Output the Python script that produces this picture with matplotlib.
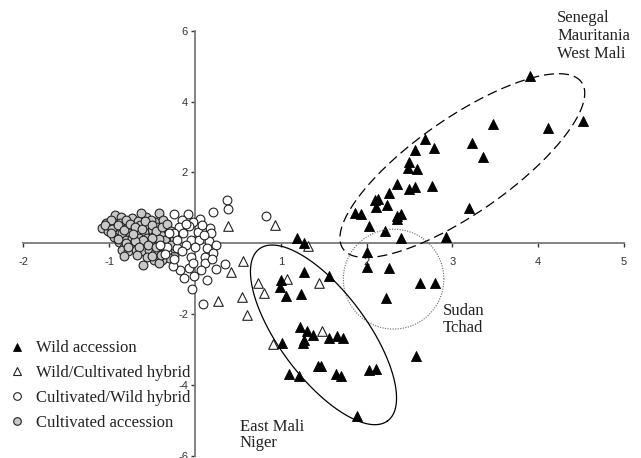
import numpy as np
import matplotlib
matplotlib.use("Agg")
import matplotlib.pyplot as plt
from matplotlib.lines import Line2D

# ---------------- data ----------------
wild_x = [3.91, 4.52, 4.11, 3.47, 3.23, 3.36, 2.68, 2.79, 2.57, 2.50, 2.48, 2.59, 2.35, 2.50,
          2.57, 2.76, 2.26, 2.10, 2.13, 2.11, 2.24, 1.87, 1.93, 2.36, 2.40, 2.35, 2.03, 2.22,
          2.40, 2.92, 3.19, 2.00, 2.00, 2.26,
          1.19, 1.27, 1.27, 1.56, 1.00, 0.99, 1.06, 1.24, 2.62, 2.80, 2.23, 1.22, 1.31, 1.37,
          1.27, 1.26, 1.56, 1.66, 1.73, 1.01, 2.58, 1.43, 1.47, 1.10, 1.21, 1.64, 1.70, 2.03,
          2.11, 1.89]
wild_y = [4.72, 3.45, 3.24, 3.36, 2.82, 2.42, 2.93, 2.70, 2.63, 2.28, 2.12, 2.09, 1.68, 1.52,
          1.60, 1.62, 1.41, 1.22, 1.24, 1.01, 1.09, 0.86, 0.83, 0.77, 0.82, 0.68, 0.49, 0.35,
          0.15, 0.18, 1.00, -0.25, -0.66, -0.70,
          0.16, 0.00, -0.81, -0.94, -1.05, -1.23, -1.49, -1.43, -1.13, -1.13, -1.56, -2.37,
          -2.49, -2.58, -2.73, -2.81, -2.67, -2.62, -2.69, -2.81, -3.18, -3.48, -3.46, -3.69,
          -3.75, -3.69, -3.75, -3.58, -3.54, -4.89]

wc_x = [0.39, 0.93, 1.32, 0.56, 0.42, 0.74, 0.81, 1.07, 1.44, 0.27, 0.55, 0.61, 1.48, 0.91]
wc_y = [0.49, 0.51, -0.08, -0.50, -0.82, -1.11, -1.40, -1.02, -1.11, -1.63, -1.51, -2.02, -2.47, -2.84]

cw_x = [0.37, 0.205, 0.39, 0.83, -0.245, -0.08, 0.06, -0.02, -0.15, -0.19, -0.07, 0.03, 0.18,
        0.19, -0.245, -0.14, -0.05, 0.045, 0.16, 0.24, 0.14, -0.005, -0.11, -0.205, -0.32,
        -0.41, -0.15, -0.05, 0.12, 0.21, 0.12, 0.065, 0.24, 0.355, -0.07, -0.17, -0.26,
        -0.13, -0.01, 0.135, -0.04, 0.09, -0.30, -0.205, 0.10,
        -0.10, 0.08, -0.25, -0.02, 0.20, -0.35]
cw_y = [1.22, 0.87, 0.96, 0.77, 0.82, 0.82, 0.68, 0.61, 0.65, 0.45, 0.49, 0.33, 0.42,
        0.28, 0.28, 0.28, 0.09, 0.09, 0.07, -0.05, -0.14, -0.10, -0.05, -0.14, -0.10,
        -0.05, -0.23, -0.38, -0.38, -0.27, -0.57, -0.76, -0.73, -0.59, -0.70, -0.76, -0.64,
        -0.97, -0.92, -1.04, -1.30, -1.72, 0.28, 0.09, 0.24,
        0.55, 0.50, -0.45, -0.55, -0.45, -0.30]

cult_x = [-0.93, -0.86, -1.04, -1.08, -1.01, -0.94, -0.87, -0.79, -0.73, -0.66, -0.565, -0.64,
          -0.555, -0.465, -0.42, -0.37, -0.32, -0.50, -0.59, -0.69, -0.77, -0.855, -0.94,
          -0.88, -0.805, -0.73, -0.65, -0.555, -0.48, -0.40, -0.30, -0.24, -0.34, -0.44,
          -0.515, -0.59, -0.67, -0.75, -0.825, -0.855, -0.785, -0.69, -0.61, -0.535, -0.46,
          -0.36, -0.245, -0.30, -0.38, -0.48, -0.555, -0.61, -0.42, -0.83, -0.245, -0.44,
          -0.98, -0.515, -0.805, -0.63,
          -1.05, -0.97, -0.90, -0.83, -0.76, -0.70, -0.62, -0.58, -0.50, -0.45, -0.38, -0.35,
          -0.42, -0.50, -0.60, -0.70, -0.80, -0.90, -0.98, -0.78, -0.65, -0.55, -0.45, -0.38,
          -0.28, -0.50, -0.40, -0.68, -0.72, -0.33, -0.28]
cult_y = [0.79, 0.75, 0.58, 0.44, 0.34, 0.45, 0.58, 0.42, 0.71, 0.63, 0.75, 0.51,
          0.49, 0.61, 0.85, 0.65, 0.41, 0.37, 0.33, 0.33, 0.30, 0.28, 0.18,
          0.04, 0.09, 0.14, 0.16, 0.16, 0.21, 0.24, 0.21, 0.09, 0.00, 0.00,
          0.04, -0.05, -0.02, -0.05, -0.11, -0.19, -0.23, -0.19, -0.23, -0.19, -0.29,
          -0.23, -0.36, -0.43, -0.47, -0.47, -0.38, -0.61, -0.55, -0.36, -0.14, 0.47,
          0.65, 0.65, 0.65, 0.85,
          0.50, 0.40, 0.50, 0.38, 0.55, 0.45, 0.40, 0.62, 0.52, 0.35, 0.45, 0.10,
          0.12, 0.15, 0.08, 0.05, 0.00, 0.12, 0.28, -0.10, -0.10, -0.05, -0.12, -0.08,
          -0.05, -0.35, -0.32, -0.32, 0.25, 0.55, 0.35]

legend_labels = ["Wild accession", "Wild/Cultivated hybrid",
                 "Cultivated/Wild hybrid", "Cultivated accession"]
group_labels = ["Senegal\nMauritania\nWest Mali", "Sudan\nTchad", "East Mali\nNiger"]
xticks = [-2, -1, 1, 2, 3, 4, 5]
yticks = [-6, -4, -2, 2, 4, 6]

# ---------------- figure ----------------
fig = plt.figure(figsize=(6.41, 4.58), dpi=100)
ax = fig.add_axes([0.0364, 0.005, 0.9371, 0.928])
ax.set_xlim(-2, 5)
ax.set_ylim(-6, 6)

spine_c = "#7a7a7a"
for s in ["left", "bottom"]:
    ax.spines[s].set_position(("data", 0))
    ax.spines[s].set_color(spine_c)
    ax.spines[s].set_linewidth(1.3)
for s in ["right", "top"]:
    ax.spines[s].set_visible(False)

ax.set_xticks(xticks)
ax.set_yticks(yticks)
ax.set_xticklabels([str(v) for v in xticks])
ax.set_yticklabels([str(v) for v in yticks])
ax.tick_params(axis="x", direction="out", length=3, width=1, color="#333333",
               pad=7, labelsize=8, labelcolor="#333333")
ax.tick_params(axis="y", direction="out", length=3, width=1, color="#333333",
               pad=2, labelsize=8, labelcolor="#333333")
for lab in ax.get_xticklabels() + ax.get_yticklabels():
    lab.set_family("Liberation Sans")

# points
ax.scatter(cult_x, cult_y, s=40, marker="o", facecolor="#c8c8c8",
           edgecolor="#222222", linewidth=0.8, zorder=3)
ax.scatter(cw_x, cw_y, s=40, marker="o", facecolor="white",
           edgecolor="#222222", linewidth=0.8, zorder=4)
ax.scatter(wc_x, wc_y, s=48, marker="^", facecolor="white",
           edgecolor="#222222", linewidth=0.8, zorder=5)
ax.scatter(wild_x, wild_y, s=52, marker="^", facecolor="black",
           edgecolor="black", linewidth=0.6, zorder=6)

# group ellipses (center, axis vectors in data units)
t = np.linspace(0, 2 * np.pi, 400)

def ell(cx, cy, ux, uy, vx, vy):
    return (cx + ux * np.cos(t) + vx * np.sin(t),
            cy + uy * np.cos(t) + vy * np.sin(t))

ex, ey = ell(3.116, 2.19, 1.389, 2.355, -0.326, 1.091)
ax.plot(ex, ey, color="black", lw=0.9, dashes=(8, 4), zorder=7)
ex, ey = ell(2.315, -1.014, 0.586, 0.0, 0.0, 1.41)
ax.plot(ex, ey, color="#666666", lw=0.8, dashes=(1, 1.3), zorder=7)
ex, ey = ell(1.498, -2.588, 0.745, -2.433, 0.412, 0.716)
ax.plot(ex, ey, color="black", lw=0.9, zorder=7)

serif = "Liberation Serif"
ax.text(4.22, 6.57, group_labels[0], family=serif, fontsize=12, va="top",
        ha="left", linespacing=1.13, color="#222222")
ax.text(2.89, -1.70, group_labels[1], family=serif, fontsize=12, va="top",
        ha="left", linespacing=1.05, color="#222222")
ax.text(0.52, -4.95, group_labels[2], family=serif, fontsize=12, va="top",
        ha="left", linespacing=1.08, color="#222222")

handles = [
    Line2D([], [], ls="none", marker="^", ms=5.5, mfc="black", mec="black", mew=0.6),
    Line2D([], [], ls="none", marker="^", ms=5.5, mfc="white", mec="#222222", mew=0.8),
    Line2D([], [], ls="none", marker="o", ms=5.5, mfc="white", mec="#222222", mew=0.8),
    Line2D([], [], ls="none", marker="o", ms=5.5, mfc="#c8c8c8", mec="#222222", mew=0.8),
]
leg = fig.legend(handles, legend_labels, loc="upper left",
                 bbox_to_anchor=(0.008, 0.264), bbox_transform=fig.transFigure,
                 frameon=False, prop={"family": serif, "size": 12},
                 labelspacing=0.53, handlelength=1.0, handletextpad=0.64,
                 borderpad=0.2, borderaxespad=0.0)
for txt in leg.get_texts():
    txt.set_color("#222222")

fig.savefig("out.png", dpi=100)
